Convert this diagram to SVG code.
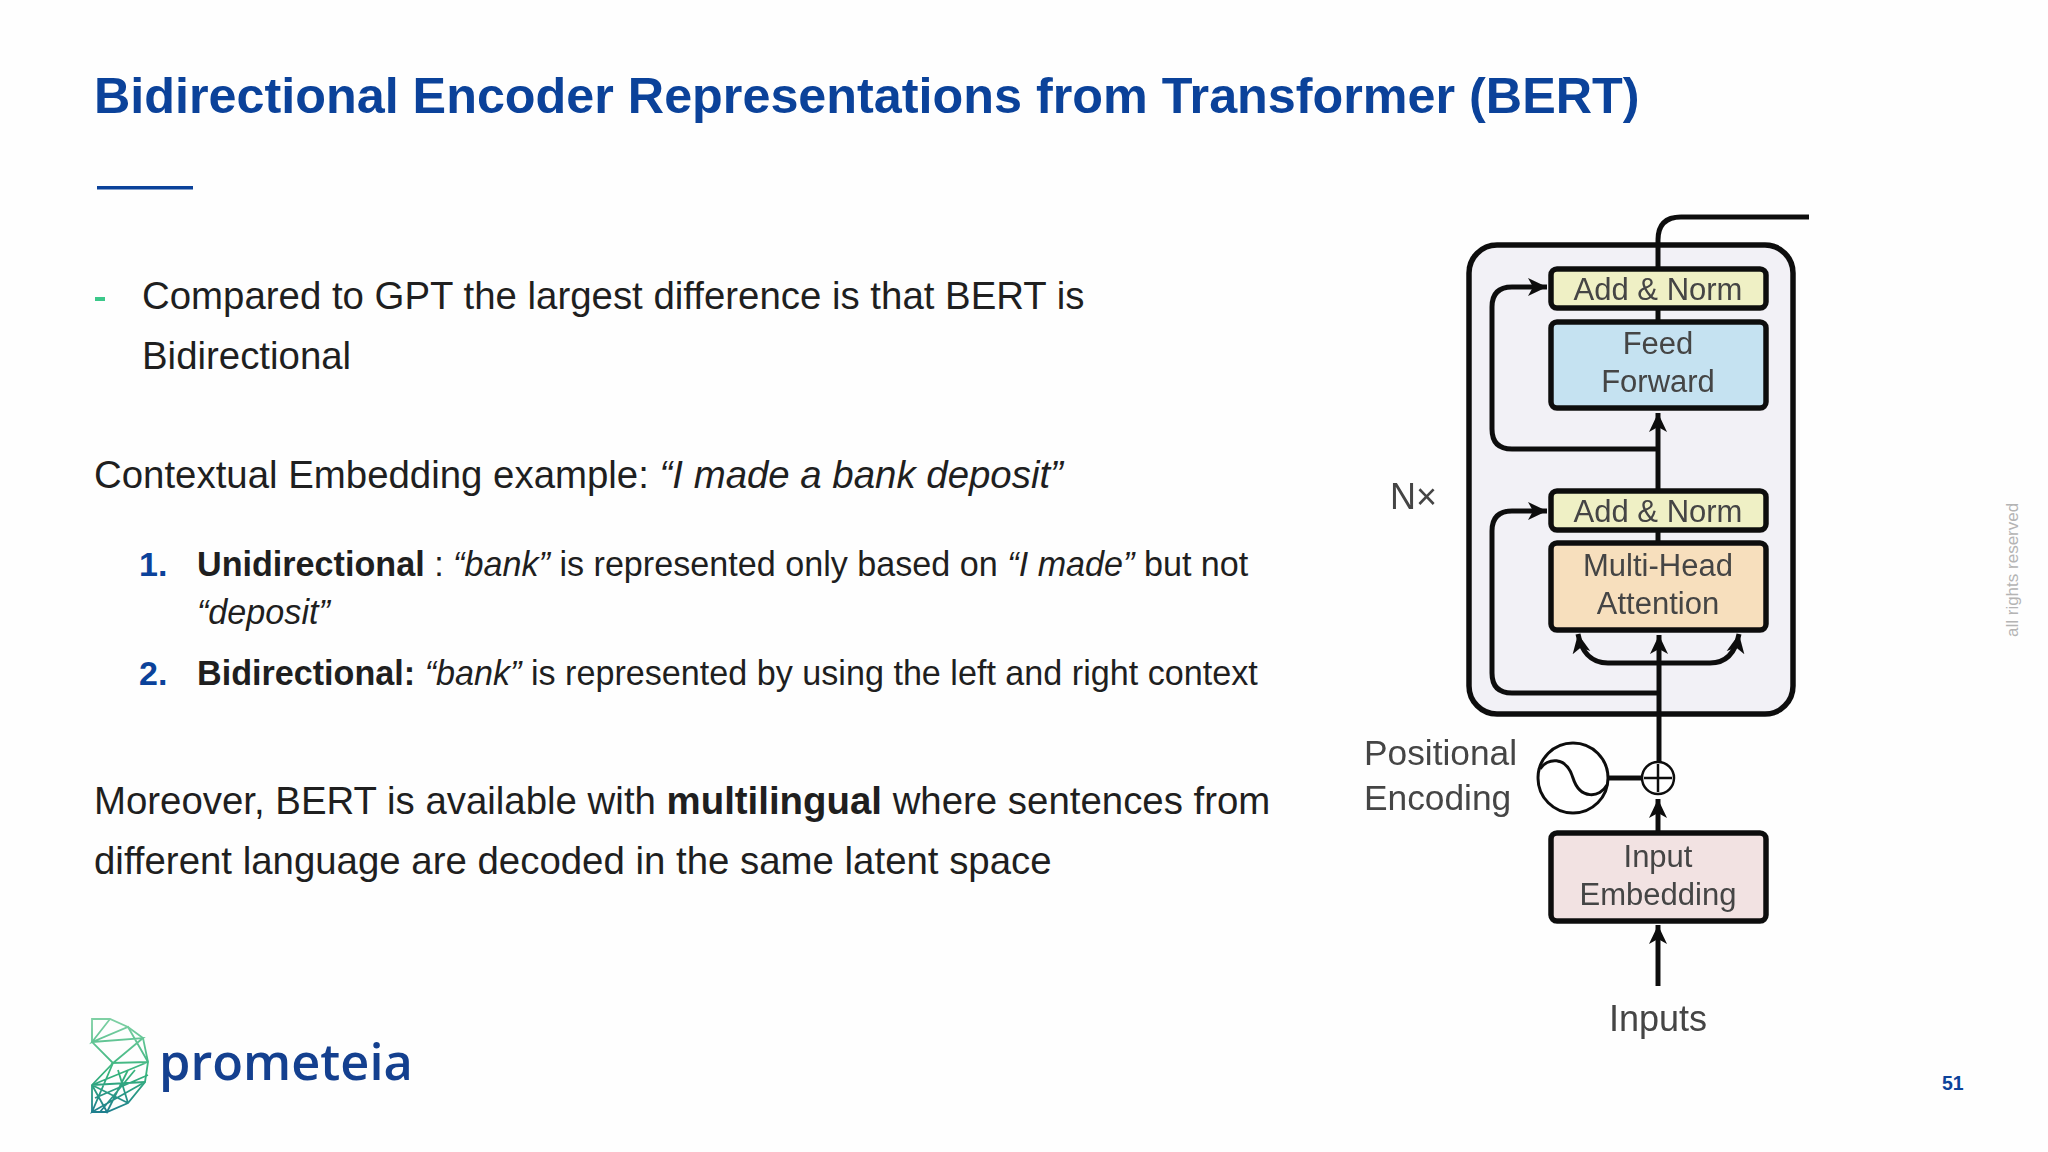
<svg xmlns="http://www.w3.org/2000/svg" width="2048" height="1152" viewBox="0 0 2048 1152">
<style>
text{font-family:"Liberation Sans",Arial,sans-serif}
.body{font-size:38.4px;fill:#1f1f1f}
.list{font-size:34.15px;fill:#1f1f1f}
.num{font-size:34px;font-weight:700;fill:#0b429a}
.b{font-weight:700}
.i{font-style:italic}
.lab{font-size:31px;fill:#444;text-anchor:middle}
.box{stroke:#111;stroke-width:5.5;}
.ln{fill:none;stroke:#111;stroke-width:5}
.mesh{fill:none;stroke:url(#mg);stroke-width:1.8}
</style>
<defs>
<marker id="arr" markerUnits="userSpaceOnUse" markerWidth="24" markerHeight="22" refX="19" refY="10" orient="auto" viewBox="0 0 24 20"><path d="M19,10 L0,1 L5,10 L0,19 Z" fill="#111"/></marker>
<linearGradient id="mg" gradientUnits="userSpaceOnUse" x1="100" y1="1019" x2="100" y2="1112"><stop offset="0" stop-color="#7fd0a4"/><stop offset="0.6" stop-color="#35b27c"/><stop offset="1" stop-color="#1f7f8e"/></linearGradient>
<filter id="soft" x="-5%" y="-5%" width="110%" height="110%"><feGaussianBlur stdDeviation="0.6"/></filter>
</defs>
<rect width="2048" height="1152" fill="#fefefe"/>
<text x="94" y="113" font-size="50.3" font-weight="700" fill="#0b429a">Bidirectional Encoder Representations from Transformer (BERT)</text>
<rect x="97" y="186" width="96" height="3.5" fill="#0b429a"/>
<rect x="95" y="297" width="10" height="4" fill="#3cc88a"/>
<text class="body" x="142" y="308.5">Compared to GPT the largest difference is that BERT is</text>
<text class="body" x="142" y="368.5">Bidirectional</text>
<text class="body" x="94" y="488">Contextual Embedding example: <tspan class="i">“I made a bank deposit”</tspan></text>
<text class="num" x="139" y="576">1.</text>
<text class="list" x="197" y="576"><tspan class="b">Unidirectional</tspan> : <tspan class="i">“bank”</tspan> is represented only based on <tspan class="i">“I made”</tspan> but not</text>
<text class="list i" x="197" y="624">“deposit”</text>
<text class="num" x="139" y="685">2.</text>
<text class="list" x="197" y="685"><tspan class="b">Bidirectional:</tspan> <tspan class="i">“bank”</tspan> is represented by using the left and right context</text>
<text class="body" x="94" y="814">Moreover, BERT is available with <tspan class="b">multilingual</tspan> where sentences from</text>
<text class="body" x="94" y="874">different language are decoded in the same latent space</text>
<g id="diagram" filter="url(#soft)">
<g id="encoder-stack"><rect class="box" x="1469" y="245" width="324" height="469" rx="28" fill="#f2f1f6"/></g>
<g id="connectors">
<path class="ln" d="M1658,268 V240 Q1658,217 1681,217 H1809"/>
<path class="ln" d="M1658,321 V308"/>
<path class="ln" d="M1658,542 V530"/>
<path class="ln" marker-end="url(#arr)" d="M1658,490 V413"/>
<path class="ln" marker-end="url(#arr)" d="M1658,449 H1512 Q1492,449 1492,429 V307 Q1492,287 1512,287 H1547"/>
<path class="ln" marker-end="url(#arr)" d="M1658,693 H1512 Q1492,693 1492,673 V531 Q1492,511 1512,511 H1547"/>
<path class="ln" marker-end="url(#arr)" d="M1659,762 V635"/>
<path class="ln" marker-end="url(#arr)" d="M1659,663 H1608 C1590,663 1581,650 1578,634"/>
<path class="ln" marker-end="url(#arr)" d="M1659,663 H1710 C1728,663 1736,650 1739,634"/>
<path class="ln" d="M1608,778 H1642"/>
<path class="ln" marker-end="url(#arr)" d="M1658,833 V799"/>
<path class="ln" marker-end="url(#arr)" d="M1658,986 V925"/>
</g>
<g id="add-norm-2"><rect class="box" x="1551" y="269" width="215" height="39" rx="6" fill="#eff0c5"/><text class="lab" x="1658" y="300">Add &amp; Norm</text></g>
<g id="feed-forward"><rect class="box" x="1551" y="322" width="215" height="86" rx="6" fill="#c5e2f1"/><text class="lab" x="1658" y="354">Feed</text><text class="lab" x="1658" y="392">Forward</text></g>
<g id="add-norm-1"><rect class="box" x="1551" y="491" width="215" height="39" rx="6" fill="#eff0c5"/><text class="lab" x="1658" y="522">Add &amp; Norm</text></g>
<g id="multi-head-attention"><rect class="box" x="1551" y="543" width="215" height="87" rx="6" fill="#f7dfbd"/><text class="lab" x="1658" y="576">Multi-Head</text><text class="lab" x="1658" y="614">Attention</text></g>
<g id="input-embedding"><rect class="box" x="1551" y="833" width="215" height="88" rx="6" fill="#f2e2e2"/><text class="lab" x="1658" y="867">Input</text><text class="lab" x="1658" y="905">Embedding</text></g>
<g id="plus"><circle cx="1658" cy="778" r="16" fill="#fff" stroke="#111" stroke-width="2.5"/><path d="M1658,764 V792 M1644,778 H1672" stroke="#111" stroke-width="2.5" fill="none"/></g>
<g id="positional-encoding"><circle cx="1573" cy="778" r="35" fill="#fff" stroke="#111" stroke-width="3"/><path d="M1540,769 C1547,758 1566,755 1573,778 C1580,800 1600,798 1607,785" fill="none" stroke="#111" stroke-width="3"/>
<text x="1364" y="765" font-size="35.3" fill="#444">Positional</text><text x="1364" y="810" font-size="35.3" fill="#444">Encoding</text></g>
<g id="nx"><text x="1390" y="509" font-size="36" fill="#444">N×</text></g>
<g id="inputs"><text x="1658" y="1031" font-size="36" fill="#444" text-anchor="middle">Inputs</text></g>
</g>
<g id="logo">
<path class="mesh" d="M92,1019 H110 L128,1027 L143,1038 L148,1062 L145,1082 L128,1103 L107,1112 H92 V1085 L113,1063 L92,1042 Z"/>
<path class="mesh" d="M110,1019 L92,1042 L128,1027 L148,1062 M92,1042 L143,1038 L113,1063 L148,1062 L92,1085 L145,1082 L92,1112 L113,1063 M92,1085 L128,1103 M92,1085 L107,1112 L128,1070 M118,1070 L128,1103 M100,1112 L135,1070 M95,1098 L148,1075"/>
<text x="159" y="1080" font-size="50.5" font-weight="600" fill="#14408f" style="font-family:'Open Sans',sans-serif">prometeia</text>
</g>
<text x="1942" y="1090" font-size="19.5" font-weight="700" fill="#0b429a">51</text>
<text transform="translate(2018,637) rotate(-90)" font-size="17" fill="#b4b4b4">all rights reserved</text>
</svg>
